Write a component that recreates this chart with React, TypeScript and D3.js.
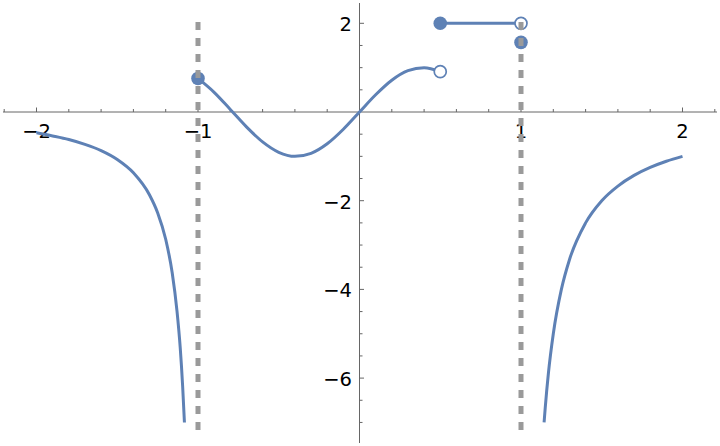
import React from "react";
import * as d3 from "d3";

// ---- data ----
const leftX = [-2, -1.9, -1.8, -1.7, -1.6, -1.5, -1.4, -1.3, -1.25, -1.2, -1.16, -1.13, -1.11, -1.095, -1.084];
const leftY = [-0.47, -0.54, -0.62, -0.73, -0.87, -1.07, -1.37, -1.87, -2.27, -2.87, -3.62, -4.49, -5.32, -6.19, -7.0];

const midX = [-1, -0.9, -0.8, -0.7, -0.6, -0.5, -0.4, -0.3, -0.2, -0.1, 0, 0.1, 0.2, 0.3, 0.4, 0.5];
const midY = [0.757, 0.443, 0.058, -0.335, -0.675, -0.909, -1.0, -0.932, -0.717, -0.389, 0, 0.389, 0.717, 0.932, 1.0, 0.909];

const stepX = [0.5, 1];
const stepY = [2, 2];

const rightX = [1.143, 1.15, 1.17, 1.2, 1.25, 1.3, 1.4, 1.5, 1.6, 1.7, 1.8, 1.9, 2];
const rightY = [-7, -6.67, -5.88, -5, -4, -3.33, -2.5, -2, -1.67, -1.43, -1.25, -1.11, -1];

const filledX = [-1, 0.5, 1];
const filledY = [0.757, 2, 1.57];
const openX = [0.5, 1];
const openY = [0.909, 2];

const exclusionX = [-1, 1];
const exclusionTop = 2.03;
const exclusionBottom = -7.17;

const xLabels = [-2, -1, 1, 2];
const yLabels = [-6, -4, -2, 2];

const W = 720;
const H = 446;
const BLUE = "#5e81b5";

export default function App() {
  const x = d3.scaleLinear().domain([-2, 2]).range([36.5, 682.5]);
  const y = d3.scaleLinear().domain([0, 2]).range([112, 23.3]);

  const line = d3
    .line<[number, number]>()
    .x((d) => x(d[0]))
    .y((d) => y(d[1]))
    .curve(d3.curveMonotoneX);

  const zip = (a: number[], b: number[]) => a.map((v, i) => [v, b[i]] as [number, number]);

  const xAxisY = y(0);
  const yAxisX = x(0);

  const xTicks = d3.range(-11, 12).map((i) => i * 0.2);
  const yTicks = d3.range(-14, 5).map((i) => i * 0.5);

  const font = "'DejaVu Sans', sans-serif";

  return (
    <svg
      width={W}
      height={H}
      style={{ position: "absolute", left: 0, top: 0, background: "white" }}
    >
      {/* axes */}
      <line x1={3} x2={717} y1={xAxisY} y2={xAxisY} stroke="#666" strokeWidth={1} />
      <line x1={yAxisX} x2={yAxisX} y1={3} y2={443} stroke="#666" strokeWidth={1} />
      {xTicks.map((t, i) => {
        const major = Math.abs(t - Math.round(t)) < 1e-6;
        if (Math.abs(t) < 1e-6) return null;
        return (
          <line
            key={"xt" + i}
            x1={x(t)}
            x2={x(t)}
            y1={xAxisY}
            y2={xAxisY - (major ? 4.5 : 3)}
            stroke="#666"
            strokeWidth={1}
          />
        );
      })}
      {yTicks.map((t, i) => {
        const major = Math.abs(t / 2 - Math.round(t / 2)) < 1e-6;
        if (Math.abs(t) < 1e-6) return null;
        return (
          <line
            key={"yt" + i}
            x1={yAxisX}
            x2={yAxisX + (major ? 4.5 : 3)}
            y1={y(t)}
            y2={y(t)}
            stroke="#666"
            strokeWidth={1}
          />
        );
      })}
      {xLabels.map((t) => (
        <text
          key={"xl" + t}
          x={x(t)}
          y={xAxisY + 26}
          textAnchor="middle"
          fontFamily={font}
          fontSize={19.5}
          fill="#000"
        >
          {t < 0 ? "\u2212" + Math.abs(t) : String(t)}
        </text>
      ))}
      {yLabels.map((t) => (
        <text
          key={"yl" + t}
          x={yAxisX - 7.5}
          y={y(t) + 8}
          textAnchor="end"
          fontFamily={font}
          fontSize={19.5}
          fill="#000"
        >
          {t < 0 ? "\u2212" + Math.abs(t) : String(t)}
        </text>
      ))}

      {/* curves */}
      {[zip(leftX, leftY), zip(midX, midY), zip(stepX, stepY), zip(rightX, rightY)].map((d, i) => (
        <path key={"c" + i} d={line(d) || ""} fill="none" stroke={BLUE} strokeWidth={3} />
      ))}

      {/* points */}
      {filledX.map((v, i) => (
        <circle key={"f" + i} cx={x(v)} cy={y(filledY[i])} r={6.8} fill={BLUE} />
      ))}
      {openX.map((v, i) => (
        <circle key={"o" + i} cx={x(v)} cy={y(openY[i])} r={6} fill="white" stroke={BLUE} strokeWidth={1.7} />
      ))}

      {/* exclusion lines */}
      {exclusionX.map((v) => (
        <line
          key={"ex" + v}
          x1={x(v)}
          x2={x(v)}
          y1={y(exclusionTop)}
          y2={y(exclusionBottom)}
          stroke="#9a9a9a"
          strokeWidth={5}
          strokeDasharray="8,8"
        />
      ))}
    </svg>
  );
}
